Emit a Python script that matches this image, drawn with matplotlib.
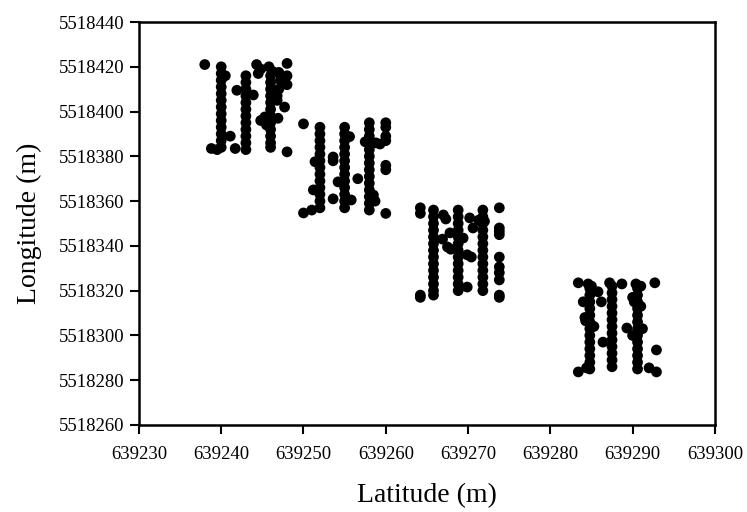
import matplotlib
matplotlib.use("Agg")
import matplotlib.pyplot as plt
from matplotlib.ticker import FixedLocator

# plot 1 (north-west block)
x1 = [639240]*13 + [639243]*12 + [639246]*12 + \
     [639244.3, 639244.8, 639245.8, 639246.2, 639244.5] + \
     [639248, 639247, 639248, 639247.2, 639248, 639247, 639246.8, 639247.7, 639246.8] + \
     [639238, 639240.5, 639238.8, 639239.5, 639241.1, 639241.9, 639241.7, 639243.9,
      639245.3, 639244.8, 639246.9, 639245.5, 639248]
y1 = [5518420, 5518417, 5518414, 5518411, 5518408, 5518405, 5518402, 5518399, 5518396, 5518393, 5518390, 5518387, 5518384,
      5518416, 5518413, 5518410, 5518407, 5518404, 5518401, 5518398, 5518395, 5518392, 5518389, 5518386, 5518383,
      5518416, 5518413, 5518410, 5518407, 5518404, 5518401, 5518398, 5518395, 5518392, 5518389, 5518386, 5518384,
      5518421, 5518419, 5518420, 5518418, 5518417,
      5518421.5, 5518417.5, 5518416, 5518414, 5518412, 5518410, 5518407, 5518402, 5518405,
      5518421, 5518416, 5518383.5, 5518383, 5518389, 5518409.5, 5518383.5, 5518407.4,
      5518397.6, 5518396, 5518397, 5518394, 5518382]

# plot 2
x2 = [639252]*13 + [639255]*13 + [639258]*14 + [639260]*7 + \
     [639250, 639251.4, 639251.2, 639250, 639251, 639255.6, 639253.6, 639253.6, 639254.2,
      639253.6, 639255.8, 639256.6, 639257.5, 639258.8, 639259.3, 639258.5, 639258.7]
y2 = [5518393, 5518390, 5518387, 5518384, 5518381, 5518378, 5518375, 5518372, 5518369, 5518366, 5518363, 5518360, 5518357,
      5518393, 5518390, 5518387, 5518384, 5518381, 5518378, 5518375, 5518372, 5518369, 5518366, 5518363, 5518360, 5518357,
      5518395, 5518392, 5518389, 5518386, 5518383, 5518380, 5518377, 5518374, 5518371, 5518368, 5518365, 5518362, 5518359, 5518356,
      5518395, 5518393, 5518389, 5518387, 5518376, 5518374, 5518354.5,
      5518394.5, 5518377.6, 5518365, 5518354.7, 5518356, 5518388.8, 5518379.7, 5518378, 5518368.6,
      5518361, 5518360.5, 5518370, 5518386.5, 5518386, 5518385.5, 5518362.7, 5518360]

# plot 3
x3 = [639264.2]*4 + [639265.8]*14 + [639268.8]*13 + [639271.8]*13 + [639273.8]*10 + \
     [639267, 639267.3, 639267.8, 639267.5, 639267.9, 639266.9, 639270.2, 639270.6, 639269.4,
      639269.9, 639270.4, 639269.9, 639271.3, 639272]
y3 = [5518357, 5518354.5, 5518317, 5518318,
      5518356, 5518353, 5518350, 5518347, 5518344, 5518341, 5518338, 5518335, 5518332, 5518329, 5518326, 5518323, 5518320, 5518318,
      5518356, 5518353, 5518350, 5518347, 5518344, 5518341, 5518338, 5518335, 5518332, 5518329, 5518326, 5518323, 5518320,
      5518356, 5518353, 5518350, 5518347, 5518344, 5518341, 5518338, 5518335, 5518332, 5518329, 5518326, 5518323, 5518320,
      5518357, 5518348, 5518346.5, 5518345, 5518335, 5518330.6, 5518328, 5518324.8, 5518318, 5518317,
      5518353.8, 5518352, 5518345.8, 5518339.5, 5518338.5, 5518343, 5518352.5, 5518348, 5518343.5,
      5518336, 5518335, 5518321.6, 5518351.5, 5518351]

# plot 4 (south-east block)
x4 = [639284.8]*13 + [639287.5]*13 + [639290.6]*13 + \
     [639283.4, 639284.6, 639285, 639287.2, 639288.7, 639290.4, 639291, 639292.7] + \
     [639284, 639284.2, 639284.3, 639285.8, 639286.2, 639286.4, 639285.3, 639289.3, 639290,
      639290.2, 639291, 639291.2, 639290, 639292.9, 639292, 639292.9, 639283.4, 639284.4]
y4 = [5518321, 5518318, 5518315, 5518312, 5518309, 5518306, 5518303, 5518300, 5518297, 5518294, 5518291, 5518288, 5518285,
      5518322, 5518319, 5518316, 5518313, 5518310, 5518307, 5518304, 5518301, 5518298, 5518295, 5518292, 5518289, 5518286,
      5518321, 5518318, 5518315, 5518312, 5518309, 5518306, 5518303, 5518300, 5518297, 5518294, 5518291, 5518288, 5518285,
      5518323.5, 5518323, 5518322, 5518323.5, 5518323, 5518323, 5518322, 5518323.5,
      5518315, 5518308, 5518306.5, 5518319.5, 5518315, 5518297, 5518304, 5518303.3, 5518317,
      5518315, 5518313, 5518303, 5518300, 5518293.5, 5518285.5, 5518283.7, 5518283.7, 5518285.5]

xticks = [639230, 639240, 639250, 639260, 639270, 639280, 639290, 639300]
yticks = [5518260, 5518280, 5518300, 5518320, 5518340, 5518360, 5518380, 5518400, 5518420, 5518440]

plt.rcParams['font.family'] = ['Liberation Serif', 'DejaVu Serif']

fig = plt.figure(figsize=(7.47, 5.12), dpi=100)
ax = fig.add_axes([0.186, 0.170, 0.771, 0.787])

for xs, ys in [(x1, y1), (x2, y2), (x3, y3), (x4, y4)]:
    ax.scatter(xs, ys, s=60, c="black", edgecolors="none", zorder=3)

ax.set_xlim(639230, 639300)
ax.set_ylim(5518260, 5518440)
ax.xaxis.set_major_locator(FixedLocator(xticks))
ax.yaxis.set_major_locator(FixedLocator(yticks))
ax.set_xticklabels([str(t) for t in xticks])
ax.set_yticklabels([str(t) for t in yticks])
ax.tick_params(direction="out", length=6.5, width=1.5, labelsize=13.5)
ax.tick_params(axis="x", pad=9)
ax.tick_params(axis="y", pad=4)
for sp in ax.spines.values():
    sp.set_linewidth(1.8)

ax.set_xlabel("Latitude (m)", fontsize=20, labelpad=14)
ax.set_ylabel("Longitude (m)", fontsize=20, labelpad=12)

fig.savefig("out.png", dpi=100)
